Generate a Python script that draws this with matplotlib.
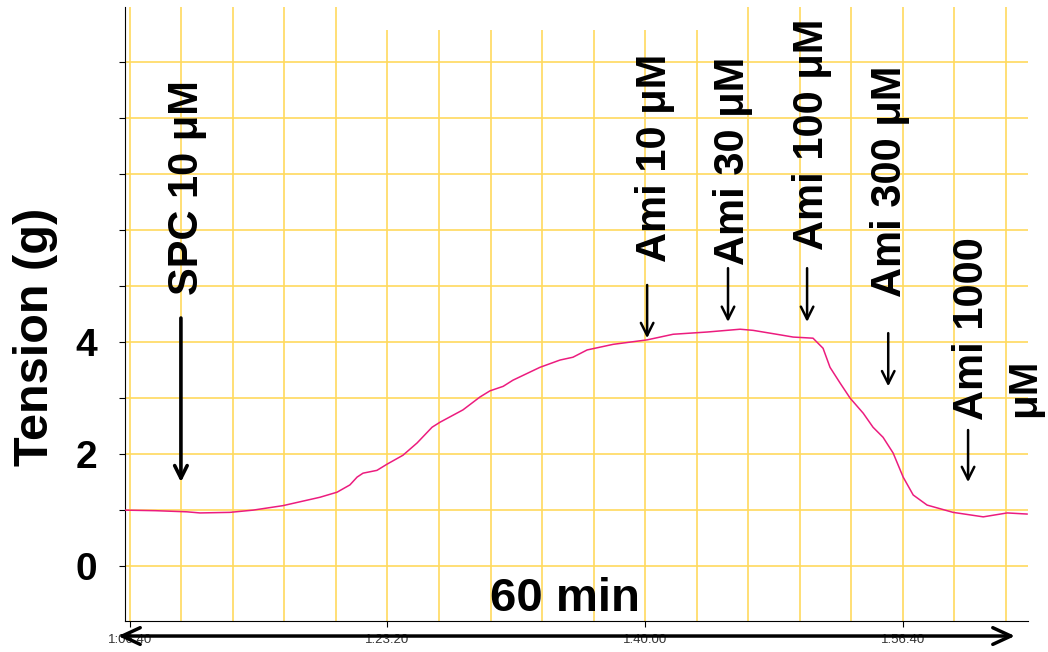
import numpy as np
from matplotlib import pyplot as plt
from matplotlib.patches import Rectangle
from matplotlib.ticker import FixedLocator, FuncFormatter, MultipleLocator

plt.rcParams['font.family'] = ['Liberation Sans', 'DejaVu Sans']

# time in seconds, tension in g
t_sec = [3981, 4100, 4221, 4272, 4388, 4478, 4594, 4738, 4804, 4854, 4882, 4905,
         4959, 4998, 5060, 5115, 5173, 5204, 5293, 5359, 5398, 5449, 5487, 5592,
         5670, 5720, 5775, 5876, 6008, 6109, 6241, 6369, 6419, 6524, 6575, 6652,
         6691, 6718, 6757, 6796, 6847, 6885, 6924, 6963, 7002, 7041, 7095, 7196,
         7313, 7406, 7483]
tension = [1.00, 0.99, 0.97, 0.95, 0.96, 1.00, 1.08, 1.23, 1.32, 1.45, 1.59, 1.66,
           1.71, 1.82, 1.98, 2.20, 2.48, 2.57, 2.79, 3.02, 3.13, 3.21, 3.32, 3.55,
           3.68, 3.73, 3.86, 3.96, 4.04, 4.14, 4.18, 4.23, 4.21, 4.13, 4.09, 4.07,
           3.89, 3.55, 3.27, 3.00, 2.73, 2.48, 2.30, 2.02, 1.59, 1.27, 1.09, 0.96,
           0.88, 0.95, 0.93]

x_ticks = [4000, 5000, 6000, 7000]
y_labels = [0, 2, 4]

# label text, text x, text bottom y, arrow x, arrow top, arrow tip
labels = ['SPC 10 \u03bcM', 'Ami 10 \u03bcM', 'Ami 30 \u03bcM', 'Ami 100 \u03bcM',
          'Ami 300 \u03bcM', 'Ami 1000']
label_x = [4221, 6039, 6342, 6648, 6951, 7270]
label_y = [4.84, 5.43, 5.38, 5.64, 4.80, 2.61]
arrow_x = [4198, 6008, 6322, 6629, 6944, 7254]
arrow_top = [4.43, 5.02, 5.32, 5.32, 4.16, 2.43]
arrow_tip = [1.50, 4.07, 4.36, 4.36, 3.21, 1.50]


def hms(x, pos):
    x = int(round(x))
    return '%d:%02d:%02d' % (x // 3600, (x % 3600) // 60, x % 60)


fig = plt.figure(figsize=(10.48, 6.52), dpi=100)
ax = fig.add_axes([0.1193, 0.0475, 0.8617, 0.9415])

ax.plot(t_sec, tension, color='#EC1C7E', lw=1.1, zorder=3)

ax.set_xlim(3981, 7487)
ax.set_ylim(-0.98, 9.98)

for gx in np.arange(4000, 7401, 200):
    ax.axvline(gx, color='#FFD95E', lw=1.2, zorder=1)
for gy in range(0, 11):
    ax.axhline(gy, color='#FFD95E', lw=1.2, zorder=1)

ax.xaxis.set_major_locator(FixedLocator(x_ticks))
ax.xaxis.set_major_formatter(FuncFormatter(hms))
ax.yaxis.set_major_locator(MultipleLocator(1))
ax.yaxis.set_major_formatter(FuncFormatter(lambda v, p: '%d' % v if int(round(v)) in y_labels else ''))
ax.tick_params(axis='x', labelsize=9.5, labelcolor='#333333', length=4, pad=5)
ax.tick_params(axis='y', labelsize=28, length=4, pad=16)
for lb in ax.get_yticklabels():
    lb.set_fontweight('bold')

ax.spines['top'].set_visible(False)
ax.spines['right'].set_visible(False)

ax.set_ylabel('Tension (g)', fontsize=35, fontweight='bold')
ax.yaxis.set_label_coords(-0.074, 0.4625)
ax.text(0.4876, 0.0, '60 min', transform=ax.transAxes, fontsize=34,
        fontweight='bold', ha='center', va='bottom')

for i in range(len(labels)):
    ax.text(label_x[i], label_y[i], labels[i], rotation=90, ha='center', va='bottom',
            fontsize=30, fontweight='bold', zorder=4)
    lw = 2.6 if i == 0 else 1.8
    ax.annotate('', xy=(arrow_x[i], arrow_tip[i]), xytext=(arrow_x[i], arrow_top[i]),
                arrowprops=dict(arrowstyle='->,head_length=0.9,head_width=0.45',
                                lw=lw, color='black', shrinkA=0, shrinkB=0), zorder=4)
ax.text(7470, 2.66, '\u03bcM', rotation=90, ha='center', va='bottom',
        fontsize=29, fontweight='bold', clip_on=False, zorder=4)

# white patch at the top and long time arrow under the axis
fig.patches.append(Rectangle((0.358, 0.954), 0.337, 0.05, transform=fig.transFigure,
                             facecolor='white', edgecolor='none', zorder=5))
ax.annotate('', xy=(0.9685, 0.0245), xytext=(0.1126, 0.0245), xycoords='figure fraction',
            arrowprops=dict(arrowstyle='<->,head_length=1.3,head_width=0.6', lw=2.5,
                            color='black', shrinkA=0, shrinkB=0))

plt.savefig('out.png', dpi=100)
